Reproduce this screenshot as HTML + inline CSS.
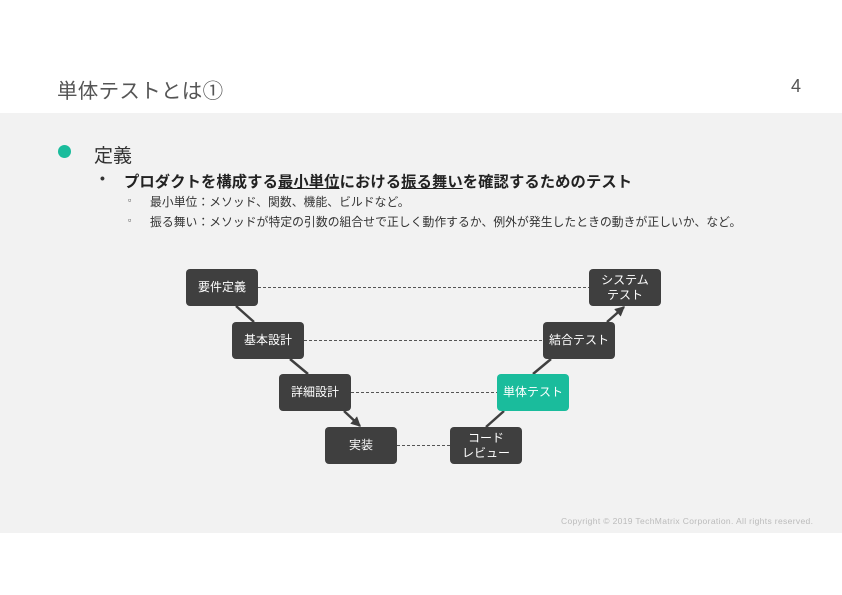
<!DOCTYPE html>
<html><head><meta charset="utf-8"><style>
body{margin:0;width:842px;height:595px;background:#fff;position:relative;overflow:hidden;font-family:"Liberation Sans","Noto Sans CJK JP",sans-serif;color:#333}
.t{position:absolute;white-space:nowrap}
.band{position:absolute;left:0;top:113px;width:842px;height:420px;background:#f2f2f2}
.b{position:absolute;width:72px;height:37px;background:#3f3f3f;border-radius:4px;color:#fff;font-size:12px;display:flex;align-items:center;justify-content:center;text-align:center;line-height:15px}
</style></head><body>
<div class="t" style="left:57px;top:74px;font-size:20.5px;letter-spacing:0.3px;color:#555">単体テストとは①</div>
<div class="t" style="left:791px;top:76px;font-size:18px;color:#555">4</div>
<div class="band"></div>
<div style="position:absolute;left:58px;top:145px;width:13px;height:13px;border-radius:50%;background:#1abc9c"></div>
<div class="t" style="left:94px;top:141px;font-size:19px;color:#333">定義</div>
<div class="t" style="left:100px;top:170px;font-size:14px;font-weight:bold">•</div>
<div class="t" style="left:124px;top:170px;font-size:15.3px;letter-spacing:0.1px;font-weight:bold;color:#222">プロダクトを構成する<u>最小単位</u>における<u>振る舞い</u>を確認するためのテスト</div>
<div class="t" style="left:128px;top:195px;font-size:9px">▫</div>
<div class="t" style="left:150px;top:193px;font-size:11.8px;letter-spacing:0.05px">最小単位：メソッド、関数、機能、ビルドなど。</div>
<div class="t" style="left:128px;top:215px;font-size:9px">▫</div>
<div class="t" style="left:150px;top:213px;font-size:11.8px;letter-spacing:0.05px">振る舞い：メソッドが特定の引数の組合せで正しく動作するか、例外が発生したときの動きが正しいか、など。</div>
<svg style="position:absolute;left:0;top:0" width="842" height="595">
<defs><marker id="a" markerWidth="4" markerHeight="4" refX="3.5" refY="2" orient="auto"><path d="M0,0L4,2L0,4z" fill="#3f3f3f"/></marker></defs>
<g stroke="#555" stroke-width="1" stroke-dasharray="3,2">
<line x1="258" y1="287.5" x2="589" y2="287.5"/>
<line x1="304" y1="340.5" x2="543" y2="340.5"/>
<line x1="351" y1="392.5" x2="497" y2="392.5"/>
<line x1="397" y1="445.5" x2="450" y2="445.5"/>
</g>
<g stroke="#3f3f3f" stroke-width="2.5">
<line x1="236" y1="306" x2="254" y2="322"/>
<line x1="290" y1="359" x2="308" y2="374"/>
<line x1="344" y1="411" x2="360" y2="426" marker-end="url(#a)"/>
<line x1="486" y1="427" x2="504" y2="411"/>
<line x1="533" y1="374" x2="551" y2="359"/>
<line x1="607" y1="322" x2="624" y2="307" marker-end="url(#a)"/>
</g></svg>
<div class="b" style="left:186px;top:269px">要件定義</div>
<div class="b" style="left:232px;top:322px">基本設計</div>
<div class="b" style="left:279px;top:374px">詳細設計</div>
<div class="b" style="left:325px;top:427px">実装</div>
<div class="b" style="left:450px;top:427px">コード<br>レビュー</div>
<div class="b" style="left:497px;top:374px;background:#1abc9c">単体テスト</div>
<div class="b" style="left:543px;top:322px">結合テスト</div>
<div class="b" style="left:589px;top:269px">システム<br>テスト</div>
<div class="t" style="left:561px;top:516px;font-size:8.5px;letter-spacing:0.35px;color:#bbb">Copyright © 2019 TechMatrix Corporation. All rights reserved.</div>
</body></html>
